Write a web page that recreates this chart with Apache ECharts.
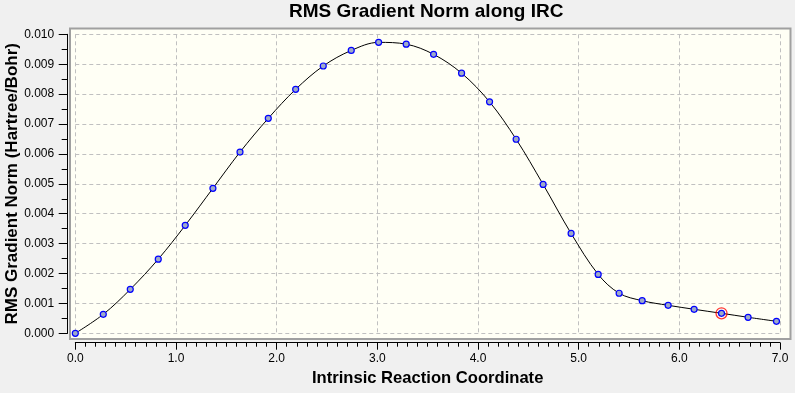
<!DOCTYPE html>
<html>
<head>
<meta charset="utf-8">
<script src="https://cdn.jsdelivr.net/npm/echarts@6/dist/echarts.min.js"></script>
<style>
html,body{margin:0;padding:0;background:#f0f0f0;}
#c{width:795px;height:393px;}
</style>
</head>
<body>
<div id="c"></div>
<script>
// Data
const ircCoord = [0.000, 0.278, 0.546, 0.824, 1.092, 1.367, 1.636, 1.917, 2.189, 2.463, 2.741, 3.013, 3.287, 3.559, 3.837, 4.115, 4.379, 4.647, 4.925, 5.194, 5.402, 5.631, 5.889, 6.147, 6.419, 6.683, 6.965];
const rmsGrad = [0.00000, 0.000635, 0.00147, 0.00248, 0.00361, 0.00485, 0.00606, 0.00719, 0.00816, 0.00894, 0.00946, 0.00973, 0.00967, 0.00933, 0.00870, 0.00774, 0.00649, 0.00498, 0.00334, 0.00197, 0.00134, 0.00109, 0.000936, 0.000803, 0.000669, 0.000535, 0.000401];
const currentIndex = 24;
const titleText = 'RMS Gradient Norm along IRC';
const xName = 'Intrinsic Reaction Coordinate';
const yName = 'RMS Gradient Norm (Hartree/Bohr)';

const FONT = '"Liberation Sans", Arial, sans-serif';
const pts = ircCoord.map((x, i) => [x, rmsGrad[i]]);

const chart = echarts.init(document.getElementById('c'), null, {renderer: 'canvas'});
chart.setOption({
  backgroundColor: '#f0f0f0',
  animation: false,
  title: {
    text: titleText,
    left: 289, top: 2, padding: 0,
    textStyle: {fontFamily: FONT, fontSize: 19, fontWeight: 'bold', color: '#000'}
  },
  graphic: [{
    type: 'rect', z: -10, silent: true,
    shape: {x: 70, y: 28.5, width: 720.5, height: 310.5},
    style: {fill: '#fffff5', stroke: '#a0a0a0', lineWidth: 2}
  }],
  grid: {left: 75.3, right: 15, top: 34.3, bottom: 59.7, containLabel: false, outerBoundsMode: 'none'},
  xAxis: {
    type: 'value', min: 0, max: 7, interval: 1,
    offset: 9.4,
    name: xName, nameLocation: 'middle', nameGap: 27, nameMoveOverlap: false,
    nameTextStyle: {fontFamily: FONT, fontSize: 16.6, fontWeight: 'bold', color: '#000'},
    axisLine: {show: true, onZero: false, lineStyle: {color: '#000', width: 1}},
    axisTick: {show: true, length: 7, lineStyle: {color: '#000'}},
    minorTick: {show: true, splitNumber: 10, length: 4, lineStyle: {color: '#000'}},
    axisLabel: {fontFamily: FONT, fontSize: 12, color: '#000', margin: 10,
      formatter: v => v.toFixed(1)},
    splitLine: {show: true, lineStyle: {color: '#c0c0c0', type: [4, 3], width: 1}}
  },
  yAxis: {
    type: 'value', min: 0, max: 0.010, interval: 0.001,
    offset: 7.6,
    name: yName, nameLocation: 'middle', nameGap: 47, nameMoveOverlap: false,
    nameTextStyle: {fontFamily: FONT, fontSize: 17, fontWeight: 'bold', color: '#000'},
    axisLine: {show: true, onZero: false, lineStyle: {color: '#000', width: 1}},
    axisTick: {show: true, length: 9, lineStyle: {color: '#000'}},
    minorTick: {show: true, splitNumber: 2, length: 6, lineStyle: {color: '#000'}},
    axisLabel: {fontFamily: FONT, fontSize: 12, color: '#000', margin: 13.5,
      formatter: v => v.toFixed(3)},
    splitLine: {show: true, lineStyle: {color: '#c0c0c0', type: [4, 3], width: 1}}
  },
  series: [{
    type: 'line',
    data: pts,
    smooth: 0.35,
    symbol: 'circle', symbolSize: 6,
    showAllSymbol: true,
    lineStyle: {color: '#000', width: 1},
    itemStyle: {color: '#9eaac8', borderColor: '#0000ff', borderWidth: 1.2}
  }, {
    type: 'scatter',
    data: [pts[currentIndex]],
    symbol: 'circle', symbolSize: 11, z: 5,
    itemStyle: {color: 'rgba(0,0,0,0)', borderColor: '#ff0000', borderWidth: 1.3}
  }]
});
</script>
</body>
</html>
